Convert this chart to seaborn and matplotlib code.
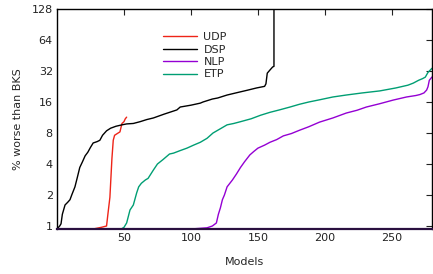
import matplotlib
matplotlib.use("Agg")
import matplotlib.pyplot as plt
import seaborn as sns
import pandas as pd

# bottom of the log axis (0 % worse is drawn on the lower border)
FLOOR = 0.935

# performance profiles (model index, % worse than BKS)
udp_x = [0, 27, 33, 37, 38, 39.5, 41, 42, 43, 45, 47, 48.5, 50, 51, 52]
udp_y = [FLOOR, FLOOR, 0.97, 1.0, 1.3, 1.9, 4.5, 6.8, 7.6, 7.9, 8.2, 9.9, 10.3, 11.0, 11.4]

dsp_x = [0, 2, 3, 4, 6, 8, 9.7, 11, 13.4, 15, 17, 19, 21, 23, 25, 27, 30, 32, 34, 37,
         40, 44, 48.5, 52, 57, 62, 67, 72, 80, 89.5, 92, 100, 107, 109, 116, 120,
         127, 135, 142, 149, 155, 156, 157, 159, 161, 162, 162]
dsp_y = [FLOOR, 1.0, 1.05, 1.3, 1.6, 1.7, 1.8, 2.0, 2.4, 2.9, 3.7, 4.2, 4.8, 5.2, 5.8,
         6.4, 6.6, 6.8, 7.6, 8.4, 8.9, 9.3, 9.6, 9.8, 9.9, 10.3, 10.8, 11.2, 12.2, 13.4,
         14.3, 14.9, 15.6, 16.0, 17.1, 17.5, 18.7, 19.8, 20.8, 21.9, 22.7, 24.0, 30.5,
         32.7, 35.0, 35.5, 1000]

nlp_x = [0, 100, 112, 116, 119, 120.5, 122, 123.5, 125, 127, 131, 134, 137, 140, 144,
         147, 150, 155, 159, 164, 169, 175, 181, 188, 196, 206, 216, 224, 231, 241,
         251, 261, 268, 271, 274, 276, 277, 278, 280]
nlp_y = [FLOOR, FLOOR, 0.96, 1.0, 1.07, 1.3, 1.5, 1.8, 2.0, 2.4, 2.8, 3.2, 3.7, 4.2,
         4.9, 5.3, 5.7, 6.1, 6.5, 6.9, 7.5, 7.9, 8.5, 9.2, 10.2, 11.2, 12.5, 13.3, 14.3,
         15.4, 16.7, 17.9, 18.5, 18.9, 19.6, 20.9, 22.5, 26.0, 28.0]

etp_x = [0, 48, 50, 52, 54.5, 57, 59.5, 61, 63, 66, 68, 72, 75, 79, 84, 87, 92, 97,
         102, 107, 112, 116.5, 122, 127, 132, 137, 145, 152, 159, 166, 174, 181, 188,
         196, 206, 216, 228, 241, 253, 262, 266, 270, 273, 275, 277, 280]
etp_y = [FLOOR, FLOOR, 0.97, 1.07, 1.43, 1.6, 2.1, 2.4, 2.6, 2.8, 2.9, 3.5, 4.0, 4.4,
         5.0, 5.1, 5.4, 5.7, 6.1, 6.5, 7.1, 8.0, 8.8, 9.6, 9.9, 10.3, 11.0, 11.9, 12.7,
         13.4, 14.3, 15.2, 16.0, 16.8, 17.9, 18.7, 19.6, 20.5, 21.9, 23.3, 24.4, 26.0,
         27.0, 27.9, 31.0, 34.0]

series = ["UDP", "DSP", "NLP", "ETP"]
colors = {"UDP": "#ee2418", "DSP": "#000000", "NLP": "#9400d3", "ETP": "#009e73"}

frames = []
for name, xs, ys in [("UDP", udp_x, udp_y), ("DSP", dsp_x, dsp_y),
                     ("NLP", nlp_x, nlp_y), ("ETP", etp_x, etp_y)]:
    frames.append(pd.DataFrame({"model": xs, "worse": ys, "method": name}))
df = pd.concat(frames, ignore_index=True)

sns.set_style("white")
plt.rcParams["font.family"] = ["DejaVu Sans"]

fig = plt.figure(figsize=(4.33, 2.74), dpi=100)
ax = fig.add_axes([57 / 433, 1 - 229 / 274, 375 / 433, 220 / 274])

for name in series:
    sub = df[df["method"] == name]
    sns.lineplot(data=sub, x="model", y="worse", ax=ax, color=colors[name],
                 linewidth=1.0, estimator=None, sort=False, label=name)

ax.set_yscale("log", base=2)
ax.set_ylim(FLOOR, 128)
ax.set_xlim(0, 280)
yt = [1, 2, 4, 8, 16, 32, 64, 128]
ax.set_yticks(yt)
ax.set_yticklabels([str(v) for v in yt])
ax.minorticks_off()
ax.set_xticks([50, 100, 150, 200, 250])

ax.tick_params(direction="in", length=4, width=0.8, top=True, right=True,
               labelsize=8, colors="#222222", pad=3)
for s in ax.spines.values():
    s.set_color("#000000")
    s.set_linewidth(1.0)
ax.spines["bottom"].set_color("#2a1040")
ax.spines["bottom"].set_linewidth(1.6)

ax.set_xlabel("Models", fontsize=8, labelpad=10)
ax.set_ylabel("% worse than BKS", fontsize=8, labelpad=6)

ax.legend(loc="upper left", bbox_to_anchor=(0.272, 0.915), frameon=False,
          fontsize=8, handlelength=3.0, handletextpad=0.6, labelspacing=0.22,
          borderaxespad=0)

fig.savefig("out.png", dpi=100)
